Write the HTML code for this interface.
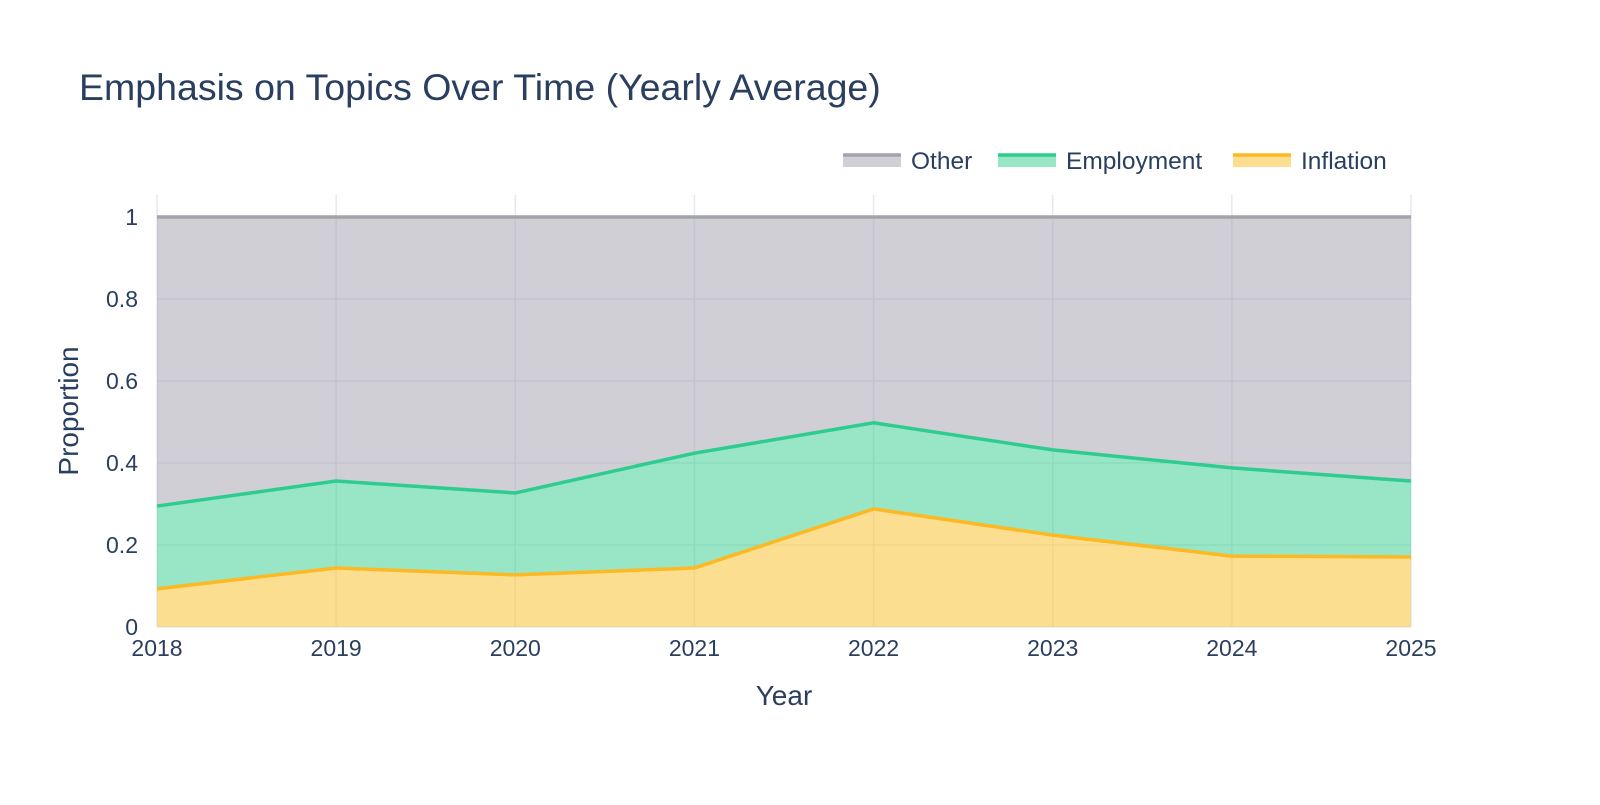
<!DOCTYPE html>
<html><head><meta charset="utf-8">
<style>
body{margin:0;background:#fff;width:1600px;height:800px;overflow:hidden}
svg{font-family:"Liberation Sans",Arial,sans-serif}
</style></head>
<body>
<svg id="chart" width="1600" height="800">
<text x="79" y="100" font-size="37.5" fill="#2a3f5f">Emphasis on Topics Over Time (Yearly Average)</text>
<g id="grid"></g>
<g id="areas"></g>
<g id="lines"></g>
<g id="axes"></g>
<g id="legend"></g>
<text x="784" y="705" font-size="28" fill="#2a3f5f" text-anchor="middle">Year</text>
<text transform="translate(78,411) rotate(-90)" font-size="28" fill="#2a3f5f" text-anchor="middle">Proportion</text>
</svg>
<script>
const years=[2018,2019,2020,2021,2022,2023,2024,2025];
const inflation=[0.093,0.144,0.127,0.144,0.288,0.224,0.173,0.171];
const employment=[0.202,0.212,0.200,0.280,0.210,0.208,0.215,0.185];
const other=[0.705,0.644,0.673,0.576,0.502,0.568,0.612,0.644];
const yTicks=[0,0.2,0.4,0.6,0.8,1];
const yTickLabels=["0","0.2","0.4","0.6","0.8","1"];
const NS="http://www.w3.org/2000/svg";
const X0=157,X1=1411,Y0=627,Y1=217;
const xs=v=>X0+(v-years[0])/(years[years.length-1]-years[0])*(X1-X0);
const ys=v=>Y0-v*(Y0-Y1);
function mk(tag,attrs,parent){const e=document.createElementNS(NS,tag);for(const k in attrs)e.setAttribute(k,attrs[k]);parent.appendChild(e);return e;}
const grid=document.getElementById('grid'),areas=document.getElementById('areas'),lines=document.getElementById('lines'),axes=document.getElementById('axes'),legend=document.getElementById('legend');
yTicks.forEach((t,i)=>{
 const l=mk('line',{x1:X0,x2:X1,y1:ys(t),y2:ys(t),stroke:'#e6e9ef','stroke-width':1.5},grid);
 
 
 const tx=mk('text',{x:X0-19,y:ys(t)+8,'font-size':23,fill:'#2a3f5f','text-anchor':'end'},axes);
 tx.textContent=yTickLabels[i];
 
 
});
years.forEach(y=>{
 const l=mk('line',{x1:xs(y),x2:xs(y),y1:195,y2:Y0,stroke:'#e6e9ef','stroke-width':1.5},grid);
 
 
 const tx=mk('text',{x:xs(y),y:656,'font-size':23,fill:'#2a3f5f','text-anchor':'middle'},axes);
 tx.textContent=y;
 
 
});
const series=[
 {name:'inflation',vals:inflation,fill:'rgba(250,200,70,0.6)',line:'#fcb924'},
 {name:'employment',vals:employment,fill:'rgba(50,205,140,0.5)',line:'#2ecc8e'},
 {name:'other',vals:other,fill:'rgba(160,160,172,0.5)',line:'#a3a3ad'}];
let base=years.map(()=>0);
series.forEach(s=>{
 const top=base.map((b,i)=>b+s.vals[i]);
 let d=years.map((y,i)=>(i?'L':'M')+xs(y)+','+ys(top[i])).join('');
 for(let i=years.length-1;i>=0;i--)d+='L'+xs(years[i])+','+ys(base[i]);
 const a=mk('path',{d:d+'Z',fill:s.fill},areas);
 
 
 const ld=years.map((y,i)=>(i?'L':'M')+xs(y)+','+ys(top[i])).join('');
 const ln=mk('path',{d:ld,fill:'none',stroke:s.line,'stroke-width':3.5},lines);
 
 
 base=top;
});
const leg=[{t:'Other',x:843,f:'rgba(160,160,172,0.5)',c:'#a3a3ad'},{t:'Employment',x:998,f:'rgba(50,205,140,0.5)',c:'#2ecc8e'},{t:'Inflation',x:1233,f:'rgba(250,200,70,0.6)',c:'#fcb924'}];
leg.forEach(L=>{
 const g=mk('g',{},legend);
 
 
 mk('rect',{x:L.x,y:155,width:58,height:12,fill:L.f},g);
 mk('line',{x1:L.x,x2:L.x+58,y1:155,y2:155,stroke:L.c,'stroke-width':3.5},g);
 const tx=mk('text',{x:L.x+68,y:169,'font-size':24.5,fill:'#2a3f5f'},g);
 tx.textContent=L.t;
});
</script>
</body></html>
